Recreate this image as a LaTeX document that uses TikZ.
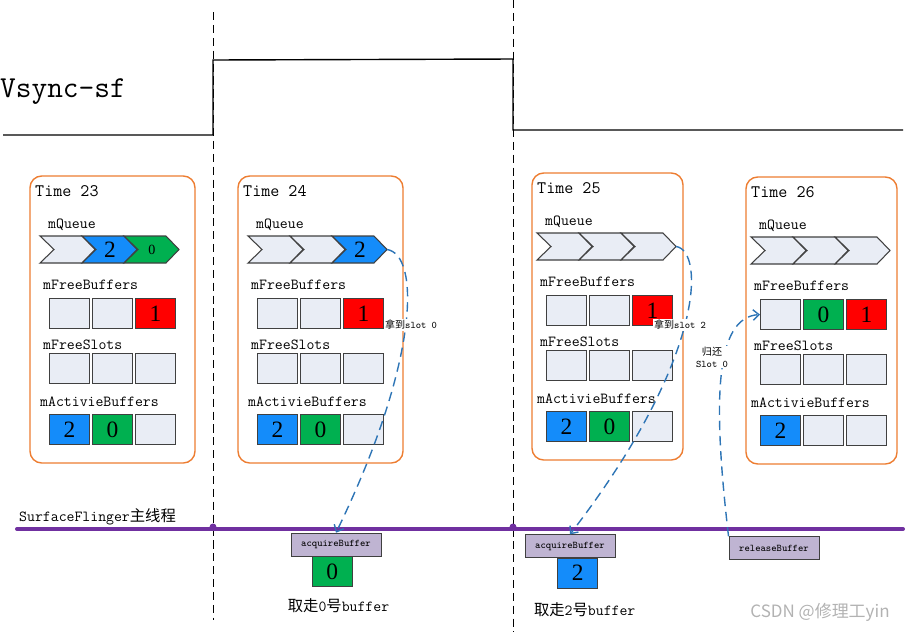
\documentclass[tikz,border=0pt]{standalone}
\usepackage{fontspec}
\setmainfont{Liberation Serif}
\newfontfamily\cjkfont{Noto Sans CJK SC}
\usetikzlibrary{arrows.meta}

\definecolor{panelorange}{RGB}{237,125,49}
\definecolor{cellgray}{RGB}{233,237,245}
\definecolor{cellblue}{RGB}{20,140,250}
\definecolor{cellgreen}{RGB}{0,176,80}
\definecolor{cellred}{RGB}{255,0,0}
\definecolor{threadpurple}{RGB}{112,48,160}
\definecolor{callpurple}{RGB}{191,180,210}
\definecolor{flowblue}{RGB}{46,117,182}
\definecolor{edgegray}{RGB}{64,64,64}

\def\smalldigit{\fontsize{12}{12}\selectfont}
% one time slot: name, chevrons, free buffers, active buffers
\def\panelbody#1#2#3#4{%
  \node[fieldlabel] (#1queue) at (13,49) {mQueue};
  \foreach \s/\t [count=\i] in {#2} {
    \draw[chev,\s] ({5+(\i-1)*42},60) -- ++(42,0) -- ++(13,13.5) -- ++(-13,13.5) -- ++(-42,0) -- ++(14,-13.5) -- cycle;
    \node[digit] (#1q\i) at ({33+(\i-1)*42},73.5) {\t};
  }
  \coordinate (#1tip) at (144,73.5);
  \node[fieldlabel] (#1freebuf) at (8,109) {mFreeBuffers};
  \foreach \s/\t [count=\i] in {#3}
    \node[cell,\s] (#1f\i) at ({14+(\i-1)*43},122) {\t};
  \node[fieldlabel] (#1freeslot) at (8,169) {mFreeSlots};
  \foreach \i in {1,2,3}
    \node[cell,freecell] (#1s\i) at ({14+(\i-1)*43},177) {};
  \node[fieldlabel] (#1active) at (5,226) {mActivieBuffers};
  \foreach \s/\t [count=\i] in {#4}
    \node[cell,\s] (#1a\i) at ({14+(\i-1)*43},238) {\t};
}

\tikzset{
  panel/.style={draw=panelorange, line width=1.2pt, rounded corners=10pt},
  freecell/.style={fill=cellgray},
  bluecell/.style={fill=cellblue},
  greencell/.style={fill=cellgreen},
  redcell/.style={fill=cellred},
  digit/.style={inner sep=0pt, font=\fontsize{20}{20}\selectfont},
  cell/.style={draw=edgegray, line width=0.9pt, anchor=north west, inner sep=0pt,
    minimum width=1.2cm, minimum height=0.9cm, font=\fontsize{20}{20}\selectfont},
  chev/.style={draw=edgegray, line width=0.9pt, line join=miter},
  fieldlabel/.style={anchor=west, inner sep=0pt, font=\ttfamily\fontsize{13.1}{15}\selectfont},
  timelabel/.style={anchor=west, inner sep=0pt, font=\ttfamily\fontsize{15}{17}\selectfont},
  call/.style={draw=edgegray, fill=callpurple, line width=0.8pt, inner sep=0pt,
    minimum width=2.7cm, minimum height=0.69cm, font=\ttfamily\fontsize{8.7}{10}\selectfont},
  flow/.style={draw=flowblue, line width=1.2pt, dash pattern=on 8pt off 5pt,
    -{Straight Barb[length=5pt,width=9pt]}},
  flowlabel/.style={fill=white, inner sep=1pt, align=center, font=\ttfamily\fontsize{8.6}{10}\selectfont},
  vline/.style={black, line width=0.6pt, dash pattern=on 7pt off 4pt},
}

\begin{document}
\begin{tikzpicture}[x=0.03cm, y=-0.03cm]
		\useasboundingbox (0,0) rectangle (905,632);
		
		%%%%% VSYNC %%%%%
		\node[anchor=west, inner sep=0pt, font=\ttfamily\fontsize{26}{28}\selectfont] (vsync) at (0,92) {Vsync-sf};
		\draw[line width=1.2pt] (3,135) -- (213,135) -- (213,60) -- (513,59) -- (513,130) -- (903,130);
		\draw[vline] (213,12) -- (213,620);
		\draw[vline] (513,0) -- (513,632);
		
		%%%%% TIME SLOTS %%%%%
		\draw[panel] (30,176) rectangle +(165,287);
		\node[timelabel] (time23) at (35,191) {Time 23};
		\begin{scope}[shift={(35,176)}]
			\panelbody{p1}{freecell/{},bluecell/2,greencell/{\smalldigit 0}}{freecell/{},freecell/{},redcell/1}{bluecell/2,greencell/0,freecell/{}}
		\end{scope}
		
		\draw[panel] (238,176) rectangle +(165,287);
		\node[timelabel] (time24) at (243,191) {Time 24};
		\begin{scope}[shift={(243,176)}]
			\panelbody{p2}{freecell/{},freecell/{},bluecell/2}{freecell/{},freecell/{},redcell/1}{bluecell/2,greencell/0,freecell/{}}
		\end{scope}
		
		\draw[panel] (532,173) rectangle +(151,287);
		\node[timelabel] (time25) at (537,188) {Time 25};
		\begin{scope}[shift={(532,173)}]
			\panelbody{p3}{freecell/{},freecell/{},freecell/{}}{freecell/{},freecell/{},redcell/1}{bluecell/2,greencell/0,freecell/{}}
		\end{scope}
		
		\draw[panel] (746,177) rectangle +(151,287);
		\node[timelabel] (time26) at (751,192) {Time 26};
		\begin{scope}[shift={(746,177)}]
			\panelbody{p4}{freecell/{},freecell/{},freecell/{}}{freecell/{},greencell/0,redcell/1}{bluecell/2,freecell/{},freecell/{}}
		\end{scope}
		
		%%%%% SURFACEFLINGER THREAD %%%%%
		\node[fieldlabel] (sfthread) at (19,517) {SurfaceFlinger{\cjkfont 主线程}};
		\draw[threadpurple, line width=3.4pt, line cap=round] (17,529) -- (903,529);
		\fill[threadpurple] (213,527) circle (3.5) (513,527) circle (3.5);
		
		\node[cell,greencell] (buf0) at (311.7,556) {0};
		\node[call] (acq0) at (336,544.7) {acquireBuffer};
		\node[font=\ttfamily\fontsize{13.1}{15}\selectfont, inner sep=0pt] (take0) at (338.5,606) {{\cjkfont 取走}0{\cjkfont 号}buffer};
		
		\node[cell,bluecell] (buf2) at (557.3,557.7) {2};
		\node[call] (acq2) at (570,546.3) {acquireBuffer};
		\node[font=\ttfamily\fontsize{13.1}{15}\selectfont, inner sep=0pt] (take2) at (584.7,609.3) {{\cjkfont 取走}2{\cjkfont 号}buffer};
		
		\node[call] (rel0) at (774,548.3) {releaseBuffer};
		
		%%%%% FLOWS %%%%%
		\draw[flow] (p2tip) .. controls +(33,5) and +(84,-173) .. (acq0.north);
		\draw[flow] (p3tip) .. controls +(29,4) and +(135,-175) .. (acq2.north);
		\draw[flow] (rel0.north west) .. controls +(-16,-137) and +(-45,3) .. (p4f1.west);
		
		\node[flowlabel] (get0) at (411,325) {{\cjkfont 拿到}slot 0};
		\node[flowlabel] (get2) at (680,325) {{\cjkfont 拿到}slot 2};
		\node[flowlabel] (back0) at (712,357) {{\cjkfont 归还}\\Slot 0};
		
		\node[text=black!30, inner sep=0pt, font=\cjkfont\fontsize{14.5}{16}\selectfont] (mark) at (820,612.7) {CSDN @修理工yin};
		
		%%%%% END %%%%%
	\end{tikzpicture}
\end{document}
